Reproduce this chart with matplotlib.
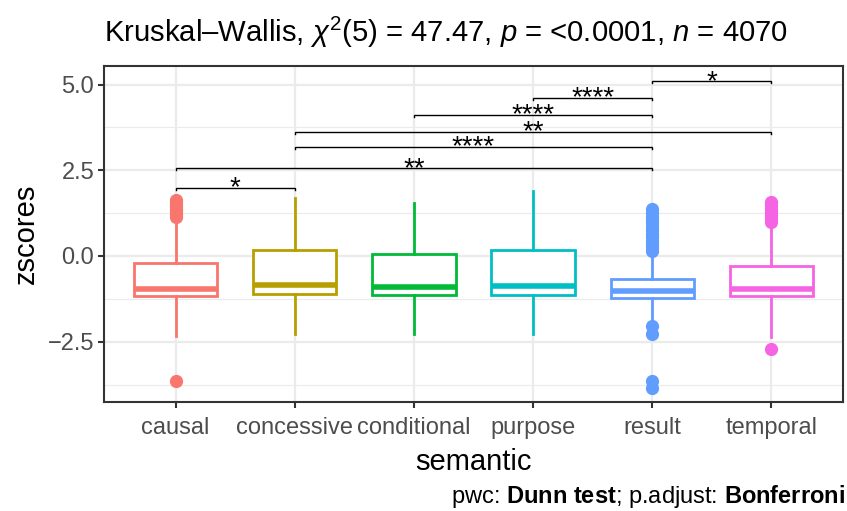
import matplotlib
matplotlib.use("Agg")
import matplotlib.pyplot as plt
import numpy as np

plt.rcParams['font.family'] = ['Liberation Sans', 'DejaVu Sans']
plt.rcParams['mathtext.fontset'] = 'custom'
plt.rcParams['mathtext.rm'] = 'Liberation Sans'
plt.rcParams['mathtext.it'] = 'Liberation Sans:italic'
plt.rcParams['mathtext.bf'] = 'Liberation Sans:bold'

# ---------------- data ----------------
categories = ['causal', 'concessive', 'conditional', 'purpose', 'result', 'temporal']
colors = ['#F8766D', '#B79F00', '#00BA38', '#00BFC4', '#619CFF', '#F564E3']
q1 = [-1.17, -1.11, -1.15, -1.14, -1.22, -1.17]
median = [-0.96, -0.86, -0.92, -0.89, -1.01, -0.97]
q3 = [-0.20, 0.18, 0.05, 0.18, -0.68, -0.29]
whisker_low = [-2.33, -2.27, -2.27, -2.27, -1.93, -2.35]
whisker_high = [1.05, 1.70, 1.54, 1.90, 0.08, 0.88]
outliers_causal = [1.15, 1.22, 1.30, 1.38, 1.45, 1.52, 1.58, 1.64, -3.66]
outliers_concessive = []
outliers_conditional = []
outliers_purpose = []
outliers_result = [0.15, 0.25, 0.35, 0.45, 0.55, 0.65, 0.75, 0.85, 0.95,
                   1.05, 1.15, 1.25, 1.36, -2.03, -2.27, -3.64, -3.84]
outliers_temporal = [0.98, 1.08, 1.18, 1.28, 1.38, 1.48, 1.58, -2.71]
outliers = [outliers_causal, outliers_concessive, outliers_conditional,
            outliers_purpose, outliers_result, outliers_temporal]

# pairwise comparisons (group1, group2, bracket y, label)
cmp_group1 = ['causal', 'causal', 'concessive', 'concessive', 'conditional', 'purpose', 'result']
cmp_group2 = ['concessive', 'result', 'result', 'temporal', 'result', 'result', 'temporal']
cmp_y = [1.99, 2.56, 3.18, 3.62, 4.11, 4.61, 5.10]
cmp_label = ['*', '**', '****', '**', '****', '****', '*']

yticks = [-2.5, 0.0, 2.5, 5.0]
ytick_labels = ['\u22122.5', '0.0', '2.5', '5.0']

# ---------------- figure ----------------
W, H = 847, 511
fig = plt.figure(figsize=(W / 100, H / 100), dpi=100)
ax = fig.add_axes([104 / W, 1 - 402 / H, (843 - 104) / W, (402 - 66) / H])

pos = np.arange(1, len(categories) + 1)
stats = []
for i, c in enumerate(categories):
    stats.append(dict(med=median[i], q1=q1[i], q3=q3[i], whislo=whisker_low[i],
                      whishi=whisker_high[i], fliers=outliers[i], label=c))

for i, st in enumerate(stats):
    col = colors[i]
    ax.bxp([st], positions=[pos[i]], widths=0.7, patch_artist=True,
           showcaps=False,
           boxprops=dict(facecolor='white', edgecolor=col, linewidth=2.0),
           medianprops=dict(color=col, linewidth=4.0, solid_capstyle='butt'),
           whiskerprops=dict(color=col, linewidth=2.0),
           flierprops=dict(marker='o', markerfacecolor=col, markeredgecolor=col,
                           markersize=8.5, linestyle='none'),
           zorder=3)

# brackets
idx = {c: i + 1 for i, c in enumerate(categories)}
tip = 0.06
for g1, g2, yv, lab in zip(cmp_group1, cmp_group2, cmp_y, cmp_label):
    x1, x2 = idx[g1], idx[g2]
    ax.plot([x1, x1, x2, x2], [yv - tip, yv, yv, yv - tip], color='black',
            linewidth=1.0, zorder=4, solid_joinstyle='miter')
    ax.annotate(lab, xy=((x1 + x2) / 2, yv), xytext=(0, -5.5),
                textcoords='offset points', ha='center', va='baseline',
                fontsize=20, color='black', zorder=5)

ax.set_xlim(0.4, 6.6)
ax.set_ylim(-4.26, 5.54)
ax.set_xticks(pos)
ax.set_xticklabels(categories)
ax.set_yticks(yticks)
ax.set_yticklabels(ytick_labels)
ax.set_yticks([-3.75, -1.25, 1.25, 3.75], minor=True)

ax.grid(True, which='major', color='#EBEBEB', linewidth=1.6, zorder=0)
ax.grid(True, which='minor', axis='y', color='#EBEBEB', linewidth=0.8, zorder=0)
ax.set_axisbelow(True)
for s in ax.spines.values():
    s.set_color('#333333')
    s.set_linewidth(1.5)
ax.tick_params(axis='both', which='major', length=4, width=1.5, color='#333333',
               labelsize=17, labelcolor='#4D4D4D', pad=3)
ax.tick_params(axis='x', which='major', pad=7)
ax.tick_params(axis='y', which='minor', length=0)

ax.set_xlabel('semantic', fontsize=21, color='black', labelpad=6)
ax.set_ylabel('zscores', fontsize=21, color='black', labelpad=6)

fig.text(104 / W, 1 - 32 / H,
         'Kruskal\u2013Wallis, $\\chi^{2}$(5) = 47.47, $\\mathit{p}$ = <0.0001, $\\mathit{n}$ = 4070',
         fontsize=21.1, ha='left', va='center', color='black')
fig.text(845 / W, 1 - 496 / H,
         'pwc: $\\mathbf{Dunn\\ test}$; p.adjust: $\\mathbf{Bonferroni}$',
         fontsize=17, ha='right', va='center', color='black')

fig.savefig('out.png', dpi=100, facecolor='white')
